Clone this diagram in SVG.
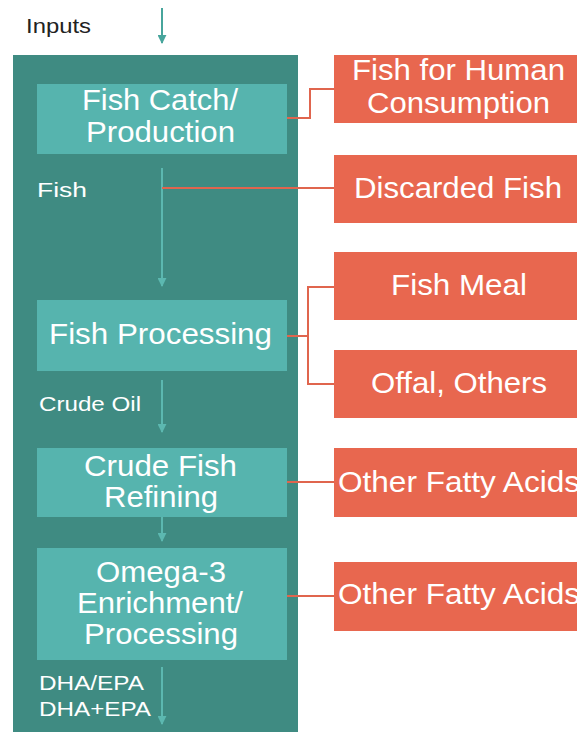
<svg xmlns="http://www.w3.org/2000/svg" width="577" height="732" viewBox="0 0 577 732">
<style>
text{font-family:"Liberation Sans",Arial,sans-serif;fill:#fff}
.big{font-size:30px}
.lbl{font-size:21px}
.dark{fill:#222}
.step{fill:#56b4ae}
.out{fill:#e8674f}
.conn{stroke:#e0654e;stroke-width:2;fill:none}
.flow{stroke:#5cb8b0;stroke-width:2;fill:none}
</style>
<defs>
<marker id="ah" viewBox="0 0 10 10" refX="9" refY="5" markerWidth="4.5" markerHeight="4.5" orient="auto" markerUnits="strokeWidth">
<path d="M0,0 L10,5 L0,10 z" fill="#5cb8b0"/>
</marker>
<marker id="ah2" viewBox="0 0 10 10" refX="9" refY="5" markerWidth="4.5" markerHeight="4.5" orient="auto" markerUnits="strokeWidth">
<path d="M0,0 L10,5 L0,10 z" fill="#47a59c"/>
</marker>
</defs>
<rect width="577" height="732" fill="#fff"/>
<g id="panel"><rect x="13" y="55" width="285" height="690" fill="#3f8b82"/></g>
<g id="inputs"><text class="lbl dark" x="26" y="33" textLength="65" lengthAdjust="spacingAndGlyphs">Inputs</text></g>
<g id="connectors">
<line x1="162" y1="8" x2="162" y2="43" stroke="#47a59c" stroke-width="2" marker-end="url(#ah2)"/>
<line class="flow" x1="162" y1="168" x2="162" y2="286" marker-end="url(#ah)"/>
<line class="flow" x1="162" y1="380" x2="162" y2="432" marker-end="url(#ah)"/>
<line class="flow" x1="162" y1="517" x2="162" y2="541" marker-end="url(#ah)"/>
<line class="flow" x1="162" y1="667" x2="162" y2="724" marker-end="url(#ah)"/>
<polyline class="conn" points="287,118 310,118 310,89 334,89"/>
<line class="conn" x1="162" y1="188" x2="334" y2="188"/>
<polyline class="conn" points="287,336 308,336"/>
<polyline class="conn" points="334,287 308,287 308,384 334,384"/>
<line class="conn" x1="287" y1="482" x2="334" y2="482"/>
<line class="conn" x1="287" y1="596" x2="334" y2="596"/>
</g>
<g id="fish-label"><text class="lbl" x="37" y="197" font-size="23" textLength="50" lengthAdjust="spacingAndGlyphs">Fish</text></g>
<g id="crude-oil-label"><text class="lbl" x="39" y="411" textLength="102" lengthAdjust="spacingAndGlyphs">Crude Oil</text></g>
<g id="dha-label">
<text class="lbl" x="39" y="690" textLength="105" lengthAdjust="spacingAndGlyphs">DHA/EPA</text>
<text class="lbl" x="39" y="716" textLength="112" lengthAdjust="spacingAndGlyphs">DHA+EPA</text>
</g>
<g id="fish-catch">
<rect class="step" x="37" y="84" width="250" height="70"/>
<text class="big" x="82" y="110" textLength="156" lengthAdjust="spacingAndGlyphs">Fish Catch/</text>
<text class="big" x="86" y="142" textLength="149" lengthAdjust="spacingAndGlyphs">Production</text>
</g>
<g id="fish-processing">
<rect class="step" x="37" y="300" width="250" height="71"/>
<text class="big" x="49" y="344" textLength="223" lengthAdjust="spacingAndGlyphs">Fish Processing</text>
</g>
<g id="crude-refining">
<rect class="step" x="37" y="448" width="250" height="69"/>
<text class="big" x="84" y="476" textLength="153" lengthAdjust="spacingAndGlyphs">Crude Fish</text>
<text class="big" x="104" y="507" textLength="114" lengthAdjust="spacingAndGlyphs">Refining</text>
</g>
<g id="omega3">
<rect class="step" x="37" y="548" width="250" height="112"/>
<text class="big" x="96" y="582" textLength="130" lengthAdjust="spacingAndGlyphs">Omega-3</text>
<text class="big" x="77" y="613" textLength="166" lengthAdjust="spacingAndGlyphs">Enrichment/</text>
<text class="big" x="84" y="644" textLength="154" lengthAdjust="spacingAndGlyphs">Processing</text>
</g>
<g id="human-consumption">
<rect class="out" x="334" y="55" width="250" height="68"/>
<text class="big" x="352" y="80" textLength="213" lengthAdjust="spacingAndGlyphs">Fish for Human</text>
<text class="big" x="367" y="113" textLength="183" lengthAdjust="spacingAndGlyphs">Consumption</text>
</g>
<g id="discarded-fish">
<rect class="out" x="334" y="155" width="250" height="68"/>
<text class="big" x="354" y="198" textLength="208" lengthAdjust="spacingAndGlyphs">Discarded Fish</text>
</g>
<g id="fish-meal">
<rect class="out" x="334" y="252" width="250" height="68"/>
<text class="big" x="391" y="295" textLength="136" lengthAdjust="spacingAndGlyphs">Fish Meal</text>
</g>
<g id="offal">
<rect class="out" x="334" y="350" width="250" height="68"/>
<text class="big" x="371" y="393" textLength="176" lengthAdjust="spacingAndGlyphs">Offal, Others</text>
</g>
<g id="fatty-acids-1">
<rect class="out" x="334" y="448" width="250" height="69"/>
<text class="big" x="338" y="492" textLength="242" lengthAdjust="spacingAndGlyphs">Other Fatty Acids</text>
</g>
<g id="fatty-acids-2">
<rect class="out" x="334" y="562" width="250" height="69"/>
<text class="big" x="338" y="604" textLength="242" lengthAdjust="spacingAndGlyphs">Other Fatty Acids</text>
</g>
</svg>
